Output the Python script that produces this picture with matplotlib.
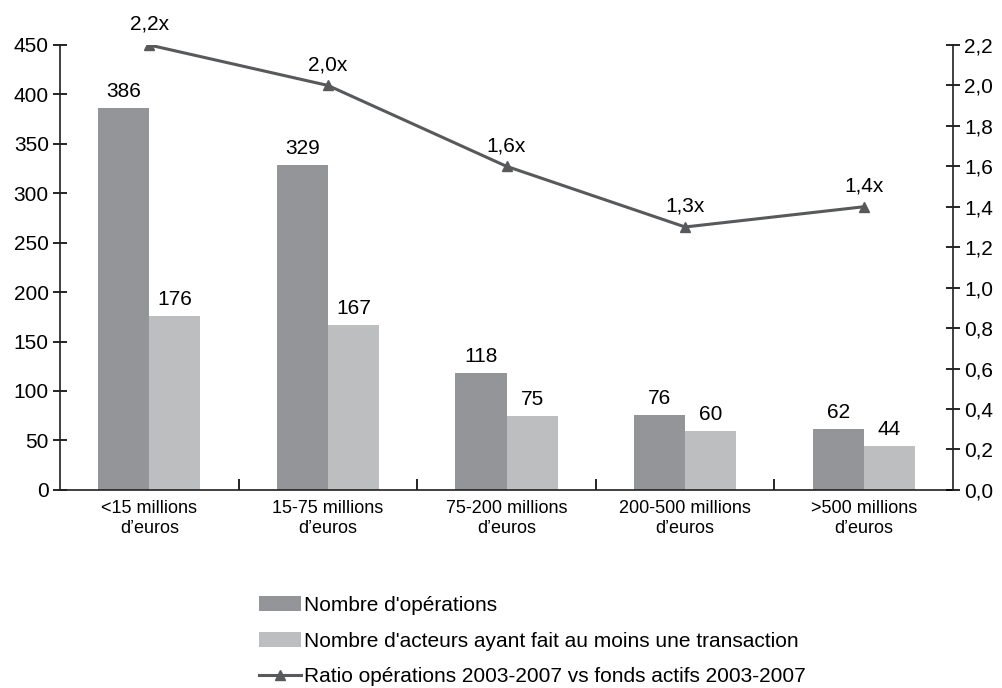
import matplotlib.pyplot as plt
import numpy as np
from matplotlib.ticker import FuncFormatter

plt.rcParams['font.family'] = ['Liberation Sans', 'DejaVu Sans']

categories = ["<15 millions\nd\u2019euros", "15-75 millions\nd\u2019euros",
              "75-200 millions\nd\u2019euros", "200-500 millions\nd\u2019euros",
              ">500 millions\nd\u2019euros"]
operations = [386, 329, 118, 76, 62]
acteurs = [176, 167, 75, 60, 44]
ratio = [2.2, 2.0, 1.6, 1.3, 1.4]

dark, light, line_col = "#939598", "#bcbec0", "#58595b"
fs = 15

fig = plt.figure(figsize=(10.03, 6.88), dpi=100)
ax = fig.add_axes([0.0598, 0.288, 0.8904, 0.6466])
ax2 = ax.twinx()

x = np.arange(len(categories))
w = 0.286
b1 = ax.bar(x - w / 2, operations, w, color=dark, label="Nombre d'op\u00e9rations")
b2 = ax.bar(x + w / 2, acteurs, w, color=light,
            label="Nombre d'acteurs ayant fait au moins une transaction")
for xi, v in zip(x, operations):
    ax.annotate(str(v), (xi - w / 2, v), xytext=(0, 5), textcoords="offset points",
                ha="center", va="bottom", fontsize=fs)
for xi, v in zip(x, acteurs):
    ax.annotate(str(v), (xi + w / 2, v), xytext=(0, 5), textcoords="offset points",
                ha="center", va="bottom", fontsize=fs)

ln, = ax2.plot(x, ratio, color=line_col, lw=2.2, marker="^", markersize=7,
               label="Ratio op\u00e9rations 2003-2007 vs fonds actifs 2003-2007")
for xi, v in zip(x, ratio):
    ax2.annotate(f"{v:.1f}x".replace(".", ","), (xi, v), xytext=(0, 8),
                 textcoords="offset points", ha="center", va="bottom", fontsize=fs)

ax.set_xlim(-0.5, len(categories) - 0.5)
ax.set_ylim(0, 450)
ax.set_yticks(np.arange(0, 451, 50))
ax2.set_ylim(0, 2.2)
ax2.set_yticks(np.arange(0, 2.21, 0.2))
ax2.yaxis.set_major_formatter(FuncFormatter(lambda v, p: f"{v:.1f}".replace(".", ",")))

for a in (ax, ax2):
    a.spines["top"].set_visible(False)
    for s in a.spines.values():
        s.set_linewidth(1.2)
        s.set_color("#231f20")
ax2.spines["left"].set_visible(False)
ax2.spines["bottom"].set_visible(False)
ax.spines["right"].set_visible(False)

ax.tick_params(axis="y", direction="inout", length=10, width=1.2, labelsize=fs, pad=3)
ax2.tick_params(axis="y", direction="inout", length=10, width=1.2, labelsize=fs, pad=3)

# category labels centered, separator ticks between groups
ax.set_xticks(x)
ax.set_xticklabels(categories, fontsize=13, linespacing=1.3)
ax.tick_params(axis="x", length=0, pad=7)
ax.set_xticks(np.arange(0.5, len(categories) - 0.5), minor=True)
ax.tick_params(axis="x", which="minor", direction="in", length=8, width=1.2)

fig.legend(handles=[b1, b2, ln], loc="upper left", bbox_to_anchor=(0.248, 0.149),
           frameon=False, fontsize=fs, handlelength=2.0, handleheight=0.7,
           handletextpad=0.15, labelspacing=0.8, borderpad=0)

fig.savefig("out.png", dpi=100)
